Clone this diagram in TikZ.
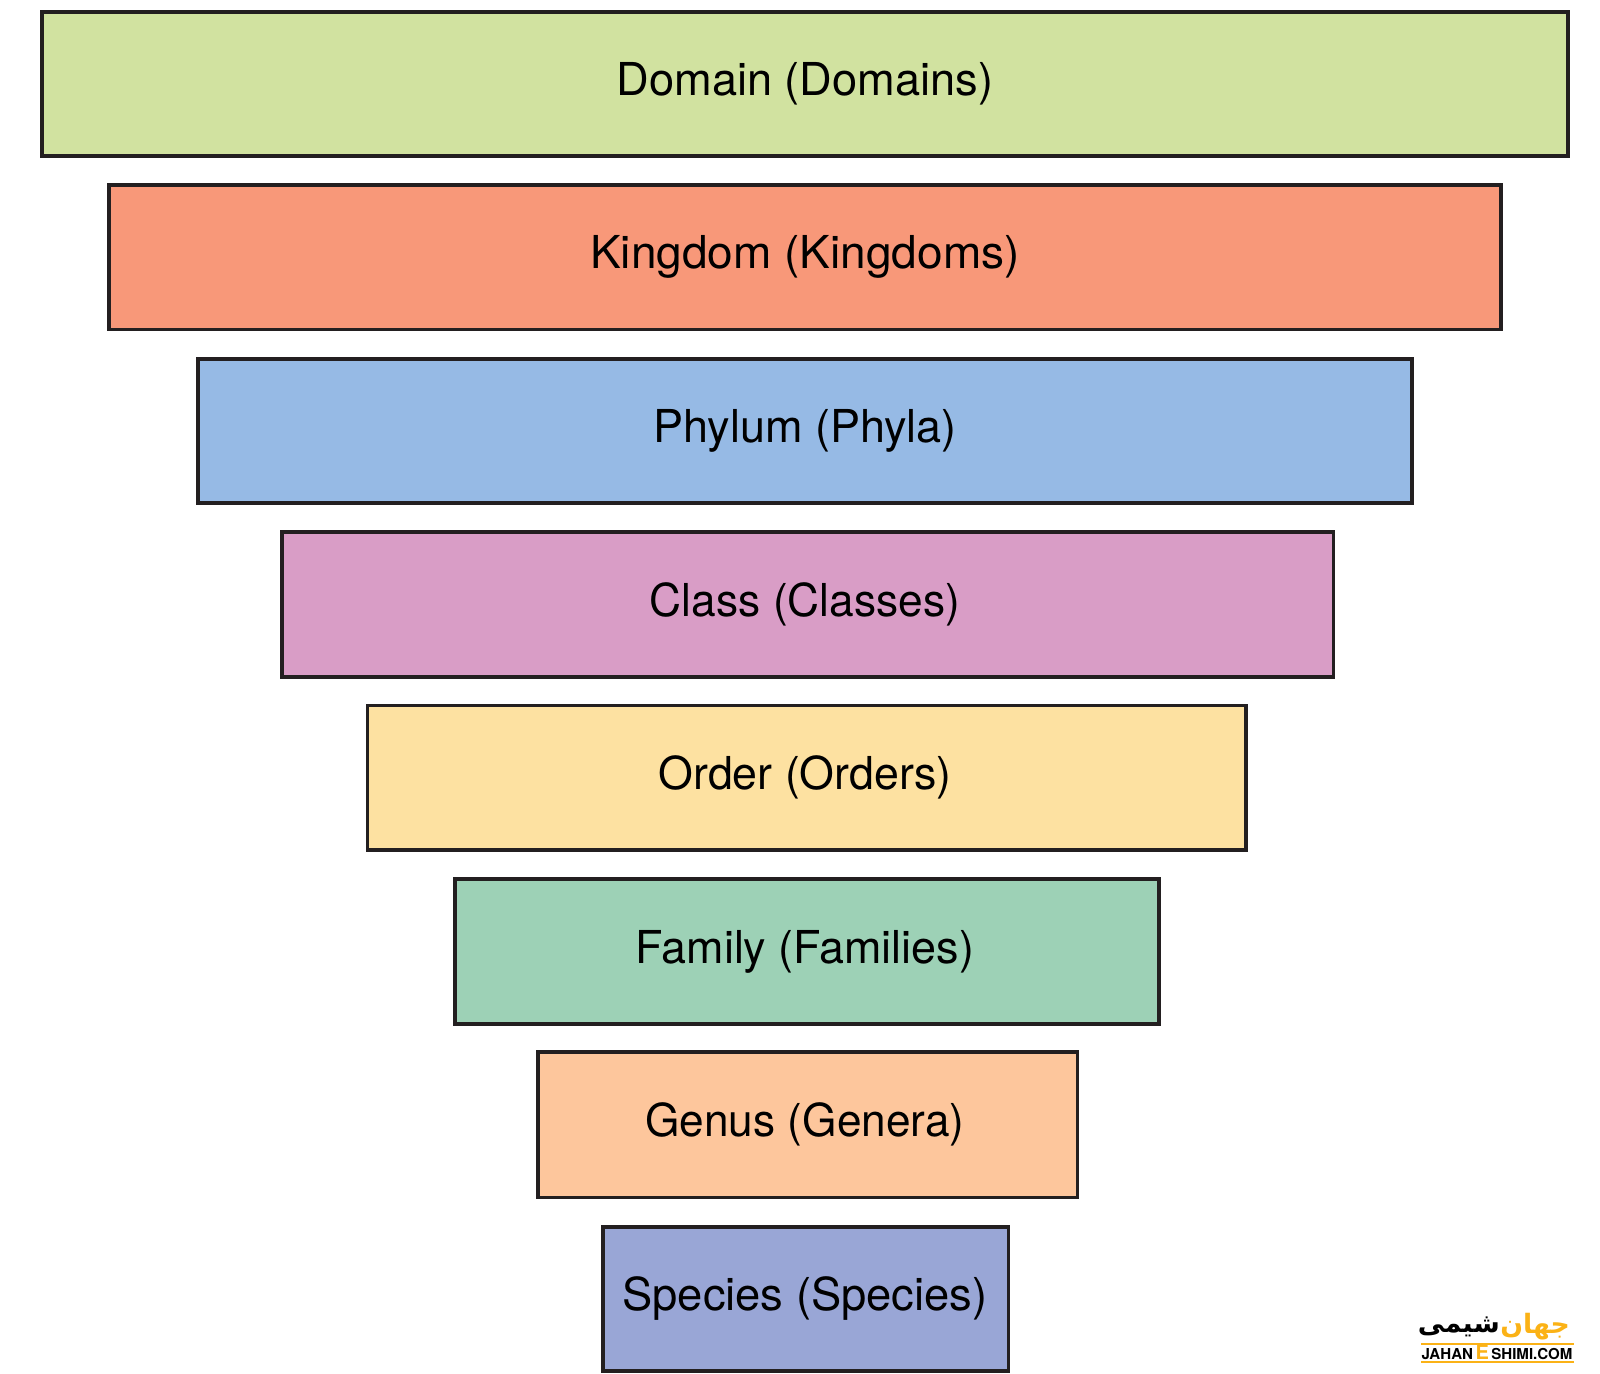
\documentclass[tikz,border=0pt]{standalone}
\usepackage{fontspec}
\setmainfont{TeX Gyre Heros}
\newfontfamily\arabicfont[Script=Arabic]{DejaVu Sans Bold}
\TeXXeTstate=1
\definecolor{cDomain}{HTML}{D1E2A0}
\definecolor{cKingdom}{HTML}{F89879}
\definecolor{cPhylum}{HTML}{96BAE5}
\definecolor{cClass}{HTML}{D99DC6}
\definecolor{cOrder}{HTML}{FDE1A1}
\definecolor{cFamily}{HTML}{9DD1B6}
\definecolor{cGenus}{HTML}{FDC69C}
\definecolor{cSpecies}{HTML}{99A6D6}
\definecolor{edge}{HTML}{231F20}
\definecolor{gold}{HTML}{FBB216}
\tikzset{
  x=0.75pt,y=-0.75pt,
  ranktext/.style={anchor=base,inner sep=0pt,font=\fontsize{34pt}{40pt}\selectfont,text=black},
  logoline/.style={draw=gold,line width=1.5pt},
  logofa/.style={inner sep=0pt,font=\arabicfont\fontsize{20pt}{24pt}\selectfont},
}
\newcommand{\rankbox}[8]{%
  \fill[#6,draw=edge,line width=2.7pt] (#2,#4) rectangle (#3,#5);
  \node[ranktext] (#1T) at (805,#5-61) {\scalebox{#8}[1]{#7}};
}
\begin{document}
\begin{tikzpicture}
\useasboundingbox (0,0) rectangle (1600,1374);
\fill[white] (0,0) rectangle (1600,1374);
\rankbox{dom}{42}{1568}{12}{156}{cDomain}{Domain (Domains)}{0.997}
\rankbox{kin}{109}{1501}{185}{329.5}{cKingdom}{Kingdom (Kingdoms)}{1.015}
\rankbox{phy}{198}{1412}{359}{503}{cPhylum}{Phylum (Phyla)}{0.993}
\rankbox{cla}{282}{1333.5}{532}{677}{cClass}{Class (Classes)}{0.977}
\rankbox{ord}{367.5}{1246}{705.5}{850}{cOrder}{Order (Orders)}{0.986}
\rankbox{fam}{455}{1159}{879}{1024}{cFamily}{Family (Families)}{0.99}
\rankbox{gen}{538}{1077.5}{1052}{1197.5}{cGenus}{Genus (Genera)}{0.975}
\rankbox{spe}{603}{1008.5}{1227}{1371}{cSpecies}{Species (Species)}{1}
% watermark
\node[logofa,anchor=east] (logofb) at (1500,1327) {\beginR شیمی\endR};
\node[logofa,anchor=west,text=gold] (logofc) at (1500,1327) {\beginR جهان\endR};
\node[inner sep=0pt,anchor=base,font=\bfseries\fontsize{11.3pt}{12pt}\selectfont] (logoen) at (1497,1359) {JAHAN\,\textcolor{gold}{\fontsize{15pt}{15pt}\selectfont E}\,SHIMI.COM};
\coordinate (la) at (1421,1344);
\coordinate (lb) at (1574,1344);
\coordinate (lc) at (1421,1362);
\coordinate (ld) at (1574,1362);
\draw[logoline] (la) -- (lb);
\draw[logoline] (lc) -- (ld);
\end{tikzpicture}
\end{document}
